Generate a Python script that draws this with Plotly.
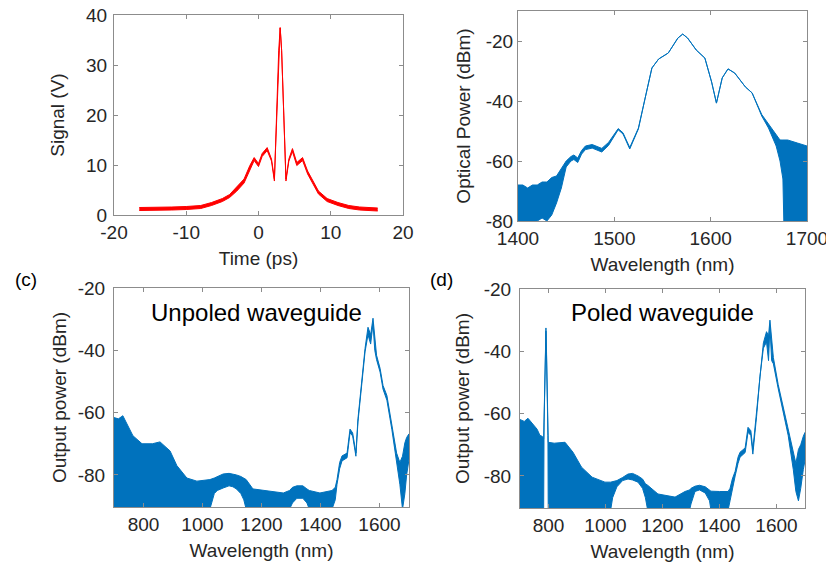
import plotly.graph_objects as go

# ---------------- data ----------------
# (a) autocorrelation trace (upper / lower envelope of the noisy trace)
time_a = [-16.5, -14, -12, -10, -8, -6.5, -5, -4, -3, -2, -1.2, -0.6, 0, 0.5, 1.2, 1.8,
          2.2, 2.5, 2.8, 3.0, 3.2, 3.5, 3.8, 4.2, 4.7, 5.3, 6.1, 6.8, 7.5, 8.3, 9.5,
          11, 12.5, 14, 16.5]
hi_a = [1.5, 1.5, 1.6, 1.7, 1.9, 2.5, 3.3, 4.1, 5.6, 7.2, 9.9, 11.5, 10.3, 12.3, 13.5, 11.2,
        7.2, 20, 33, 37.5, 33, 20, 7.2, 11.2, 13.3, 10.5, 11.5, 8.8, 6.8, 4.8, 3.3,
        2.5, 1.9, 1.6, 1.4]
lo_a = [0.9, 0.9, 1.0, 1.1, 1.3, 1.9, 2.7, 3.5, 4.8, 6.4, 9.1, 10.9, 9.7, 11.7, 12.9, 10.8,
        6.8, 20, 33, 37.5, 33, 20, 6.8, 10.8, 12.7, 9.9, 10.9, 8.2, 6.2, 4.2, 2.7,
        1.9, 1.3, 1.0, 0.8]

# (b) input spectrum (upper / lower envelope of the trace)
wl_b = [1400, 1405, 1410, 1415, 1420, 1425, 1430, 1435, 1440, 1445, 1450, 1455, 1458, 1462,
        1466, 1470, 1477, 1487, 1494, 1504, 1509, 1516, 1525, 1532, 1539, 1546, 1556, 1566,
        1571, 1576, 1585, 1594, 1601, 1606, 1612, 1618, 1625, 1636, 1643, 1653, 1660, 1664,
        1668, 1672, 1675, 1676, 1680, 1690, 1700]
hi_b = [-68, -68, -69, -68, -68, -67, -67, -65.5, -65, -62.5, -60, -58.5, -58, -59,
        -56.5, -55, -54.5, -55.8, -53.8, -49.2, -50.6, -55.5, -49, -39, -29, -26, -24, -19,
        -17.7, -19, -23, -25.7, -33.7, -40.7, -32.3, -29.3, -30.7, -35.3, -37.3, -44.5, -47.5, -49.5,
        -51, -53, -53, -53, -53, -54, -55]
lo_b = [-80, -80, -80, -80, -80, -79, -80, -78, -74, -69, -62, -60, -59.5, -60.5,
        -57.7, -56.2, -55.7, -57, -54.8, -49.6, -51, -56, -49.3, -39, -29, -26, -24, -19,
        -17.7, -19, -23, -25.7, -33.7, -40.7, -32.3, -29.3, -30.7, -35.3, -37.3, -45, -49, -52,
        -55, -60, -66, -81, -81, -81, -81]

# (c) unpoled waveguide output spectrum
wl_c = [700, 715, 730, 745, 764, 795, 830, 856, 890, 913, 947, 981, 1025, 1040, 1050, 1070,
        1090, 1103, 1115, 1130, 1140, 1148, 1171, 1218, 1274, 1295, 1305, 1320, 1340, 1354,
        1362, 1398, 1439, 1450, 1456, 1465, 1473, 1490, 1500, 1509, 1520, 1527, 1540, 1551,
        1561, 1570, 1578, 1584, 1590, 1602, 1612, 1625, 1642, 1658, 1669, 1678, 1686, 1692, 1700]
hi_c = [-61.6, -62, -61, -64, -67.4, -70, -70, -69.4, -72.3, -77, -81, -82, -81.5, -81, -80.5, -79.7,
        -79.5, -79.7, -80, -80.5, -81, -81.5, -84.5, -85, -85.8, -85, -84, -83.5, -83.5, -84.5,
        -85, -85.8, -85, -84, -81.5, -76, -73.9, -73, -65.3, -66.5, -73, -62, -49, -39.4,
        -32.6, -35, -29.7, -35, -41.6, -45.8, -51.3, -54.5, -64.2, -73, -76, -74, -69.7, -68, -66.8]
lo_c = [-91, -91, -91, -91, -91, -91, -91, -91, -91, -91, -91, -91, -91, -86, -85, -84.2,
        -83.5, -83.8, -84.5, -86, -88, -91, -91, -91, -91, -91, -89, -87.5, -87.5, -89,
        -91, -91, -91, -88, -83, -78, -75.5, -74.5, -66.5, -67.5, -74, -63, -50, -40.5,
        -35, -38, -31.5, -40, -43, -47, -52.5, -56, -65.5, -75, -83, -91, -86, -80, -75]

# (d) poled waveguide output spectrum
wl_d = [700, 715, 728, 745, 760, 770, 778, 783, 784.5, 786, 789, 791, 793, 796, 798, 799,
        820, 858, 886, 916, 953, 998, 1018, 1025, 1040, 1060, 1079, 1095, 1114, 1130, 1140,
        1148, 1184, 1244, 1279, 1295, 1300, 1314, 1330, 1350, 1365, 1370, 1400, 1430, 1437,
        1445, 1455, 1465, 1472, 1490, 1500, 1510, 1517, 1530, 1542, 1554, 1565, 1572, 1577,
        1583, 1589, 1606, 1624, 1641, 1659, 1668, 1677, 1685, 1694, 1700]
hi_d = [-61.9, -62.5, -61.5, -63.5, -65, -67, -67.3, -68, -63, -55, -40, -32.5, -40, -55, -66, -69.2,
        -69.5, -69.2, -72.4, -77.2, -80.4, -82, -82, -81.8, -81.5, -80.5, -79.4, -79.2, -80, -81, -82.5,
        -83, -85.8, -86.8, -85, -84.5, -84, -83.3, -83, -83.5, -84.5, -84.9, -85, -85, -84,
        -81, -78.5, -74, -72.4, -71, -64.4, -65.5, -71.5, -59.3, -46.5, -37.3, -33.7, -35, -30,
        -36, -42, -50.7, -58, -65.7, -73, -76, -71.5, -70, -67.3, -66]
lo_d = [-91, -91, -91, -91, -91, -91, -91, -91, -63, -56, -41, -33.5, -41, -56, -67, -91,
        -91, -91, -91, -91, -91, -91, -91, -87, -83.5, -81.5, -81, -81.3, -82, -84, -87,
        -91, -91, -91, -91, -91, -89, -85, -84.5, -85.5, -88, -91, -91, -91, -88,
        -84, -80, -76, -74, -72.5, -66, -67, -73, -61, -48, -39, -37, -43, -32,
        -43, -44, -52, -59.5, -67, -78, -85, -88, -84, -78, -75]

# tick labels
ticks_a_x = [-20, -10, 0, 10, 20]
ticks_a_y = [0, 10, 20, 30, 40]
ticks_b_x = [1400, 1500, 1600, 1700]
ticks_dbm = [-80, -60, -40, -20]
ticks_wl = [800, 1000, 1200, 1400, 1600]

# ---------------- figure ----------------
BLUE = '#0072BD'
RED = '#ff0000'
FONT = 'Liberation Sans, Arial, Helvetica, sans-serif'
TXT = '#262626'
AX = '#8c8c8c'

fig = go.Figure()


def band(x, lo, hi, xa, ya, color):
    fig.add_trace(go.Scatter(x=x, y=lo, mode='lines', line=dict(color=color, width=1),
                             xaxis=xa, yaxis=ya, showlegend=False))
    fig.add_trace(go.Scatter(x=x, y=hi, mode='lines', line=dict(color=color, width=1),
                             fill='tonexty', fillcolor=color,
                             xaxis=xa, yaxis=ya, showlegend=False))


band(time_a, lo_a, hi_a, 'x', 'y', RED)
band(wl_b, lo_b, hi_b, 'x2', 'y2', BLUE)
band(wl_c, lo_c, hi_c, 'x3', 'y3', BLUE)
band(wl_d, lo_d, hi_d, 'x4', 'y4', BLUE)


def axis(domain, rng, tv, title, anchor, standoff, lblgap=0):
    return dict(domain=domain, range=rng, tickvals=tv, ticktext=[str(v) for v in tv],
                showline=True, linecolor=AX, linewidth=1, mirror='ticks',
                ticks='inside', ticklen=4, tickcolor=AX, tickwidth=1,
                ticklabelstandoff=lblgap, ticklabeloverflow='allow',
                showgrid=False, zeroline=False, anchor=anchor, automargin=False,
                tickfont=dict(family=FONT, size=19, color=TXT),
                title=dict(text=title, standoff=standoff,
                           font=dict(family=FONT, size=19, color=TXT)))


# the page body adds an 8 px offset, so the figure is drawn 8 px smaller
OFF = 8
W, H = 834 - OFF, 567 - OFF
def dx(a, b):
    return [(a - OFF) / W, (b - OFF) / W]
def dy(top, bot):
    return [1 - (bot - OFF) / H, 1 - (top - OFF) / H]
def px(x):
    return (x - OFF) / W
def py(y):
    return 1 - (y - OFF) / H

fig.update_layout(
    width=W, height=H, margin=dict(l=0, r=0, t=0, b=0, autoexpand=False),
    paper_bgcolor='white', plot_bgcolor='white',
    xaxis=axis(dx(114, 403), [-20, 20], ticks_a_x, 'Time (ps)', 'y', 9),
    yaxis=axis(dy(15, 215), [0, 40.05], ticks_a_y, 'Signal (V)', 'x', 16, 2),
    xaxis2=axis(dx(518, 807), [1400, 1700], ticks_b_x, 'Wavelength (nm)', 'y2', 9),
    yaxis2=axis(dy(11, 221), [-80, -10], ticks_dbm, 'Optical Power (dBm)', 'x2', 10, 0),
    xaxis3=axis(dx(114, 409), [700, 1700], ticks_wl, 'Wavelength (nm)', 'y3', 9),
    yaxis3=axis(dy(288, 507), [-90.3, -20], ticks_dbm, 'Output power (dBm)', 'x3', 6, 4),
    xaxis4=axis(dx(520, 805), [700, 1700], ticks_wl, 'Wavelength (nm)', 'y4', 9),
    yaxis4=axis(dy(289, 508), [-90.3, -20], ticks_dbm, 'Output power (dBm)', 'x4', 9, 4),
)

for txt, x, y, size in [('Unpoled waveguide', 257, 312, 24),
                        ('Poled waveguide', 662, 312, 24),
                        ('(c)', 26, 279, 19),
                        ('(d)', 441, 279, 19)]:
    fig.add_annotation(text=txt, x=px(x), y=py(y), xref='paper', yref='paper',
                       xanchor='center', yanchor='middle', showarrow=False,
                       font=dict(family=FONT, size=size, color='black'))

fig.write_html('out.html')
